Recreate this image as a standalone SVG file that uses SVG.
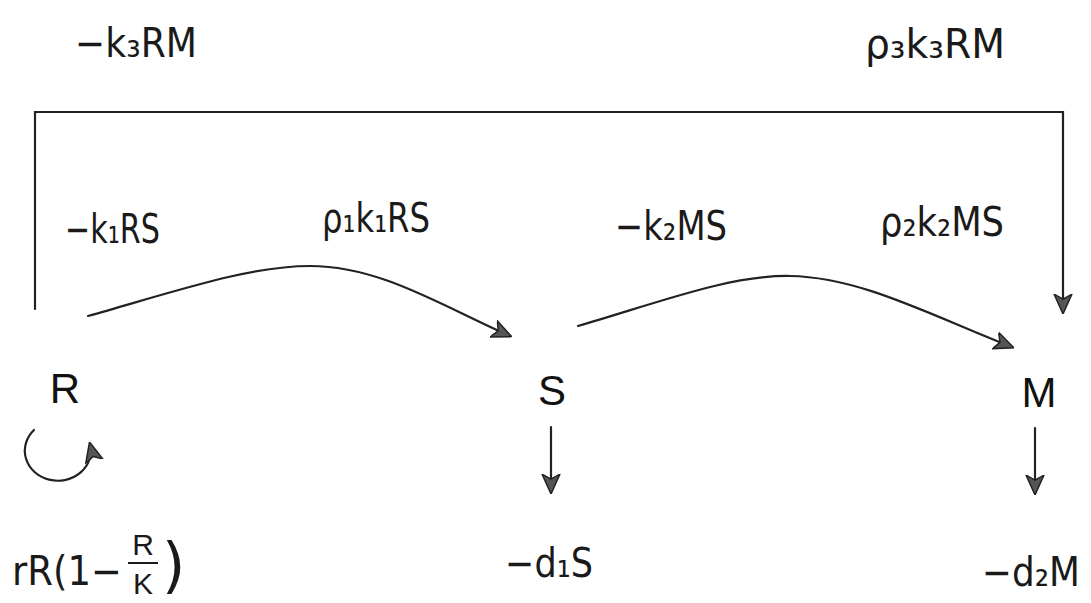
<svg xmlns="http://www.w3.org/2000/svg" width="1091" height="603" viewBox="0 0 1091 603">
  <style>
    .node { font-family: "Liberation Sans", Arial, sans-serif; font-size: 42px; fill: #111; text-anchor: middle; }
    .hw { font-family: "DejaVu Sans", "Liberation Sans", sans-serif; font-size: 40px; fill: #1a1a1a; }
    .frac { font-family: "Liberation Sans", Arial, sans-serif; font-size: 30px; fill: #1a1a1a; text-anchor: middle; }
    .edge { fill: none; stroke: #222; stroke-width: 2.2; stroke-linecap: round; }
    .arr { marker-end: url(#ah); }
  </style>
  <defs>
    <marker id="ah" viewBox="0 0 20 20" refX="18" refY="10" markerWidth="9" markerHeight="9" orient="auto" markerUnits="strokeWidth">
      <path d="M0,1 L20,10 L0,19 L5,10 z" fill="#555" stroke="#222" stroke-width="1.5" stroke-linejoin="miter"/>
    </marker>
  </defs>
  <rect width="1091" height="603" fill="#fff"/>

  <g id="connectors">
    <path class="edge arr" d="M35,309 L35,112 L1063,112 L1063,312"/>
    <path class="edge arr" d="M88,316 C180,290 250,266 310,266 C380,266 440,305 510,336"/>
    <path class="edge arr" d="M578,326 C660,302 730,275 790,276 C860,277 930,315 1012,347"/>
    <path class="edge arr" d="M551,427 L551,492"/>
    <path class="edge arr" d="M1035,428 L1035,493"/>
    <path class="edge arr" d="M34,430 A33 30 0 1 0 90,444"/>

    <g id="labels">
      <text class="hw" x="75" y="57" textLength="122" lengthAdjust="spacingAndGlyphs">−k₃RM</text>
      <text class="hw" x="865" y="58" textLength="140" lengthAdjust="spacingAndGlyphs">ρ₃k₃RM</text>
      <text class="hw" x="65" y="243" textLength="95" lengthAdjust="spacingAndGlyphs">−k₁RS</text>
      <text class="hw" x="322" y="232" textLength="108" lengthAdjust="spacingAndGlyphs">ρ₁k₁RS</text>
      <text class="hw" x="615" y="240" textLength="112" lengthAdjust="spacingAndGlyphs">−k₂MS</text>
      <text class="hw" x="880" y="236" textLength="124" lengthAdjust="spacingAndGlyphs">ρ₂k₂MS</text>
      <text class="hw" x="505" y="577" textLength="88" lengthAdjust="spacingAndGlyphs">−d₁S</text>
      <text class="hw" x="982" y="586" textLength="98" lengthAdjust="spacingAndGlyphs">−d₂M</text>
      <g id="logistic">
        <text class="hw" x="12" y="585" textLength="110" lengthAdjust="spacingAndGlyphs">rR(1−</text>
        <text class="frac" x="143" y="555">R</text>
        <line x1="128" y1="563" x2="158" y2="563" stroke="#1a1a1a" stroke-width="2"/>
        <text class="frac" x="143" y="594">K</text>
        <text class="hw" x="162" y="586" style="font-size:60px">)</text>
      </g>
    </g>
  </g>

  <g id="node-R"><text class="node" x="65" y="403">R</text></g>
  <g id="node-S"><text class="node" x="552" y="405">S</text></g>
  <g id="node-M"><text class="node" x="1039" y="407">M</text></g>
</svg>
